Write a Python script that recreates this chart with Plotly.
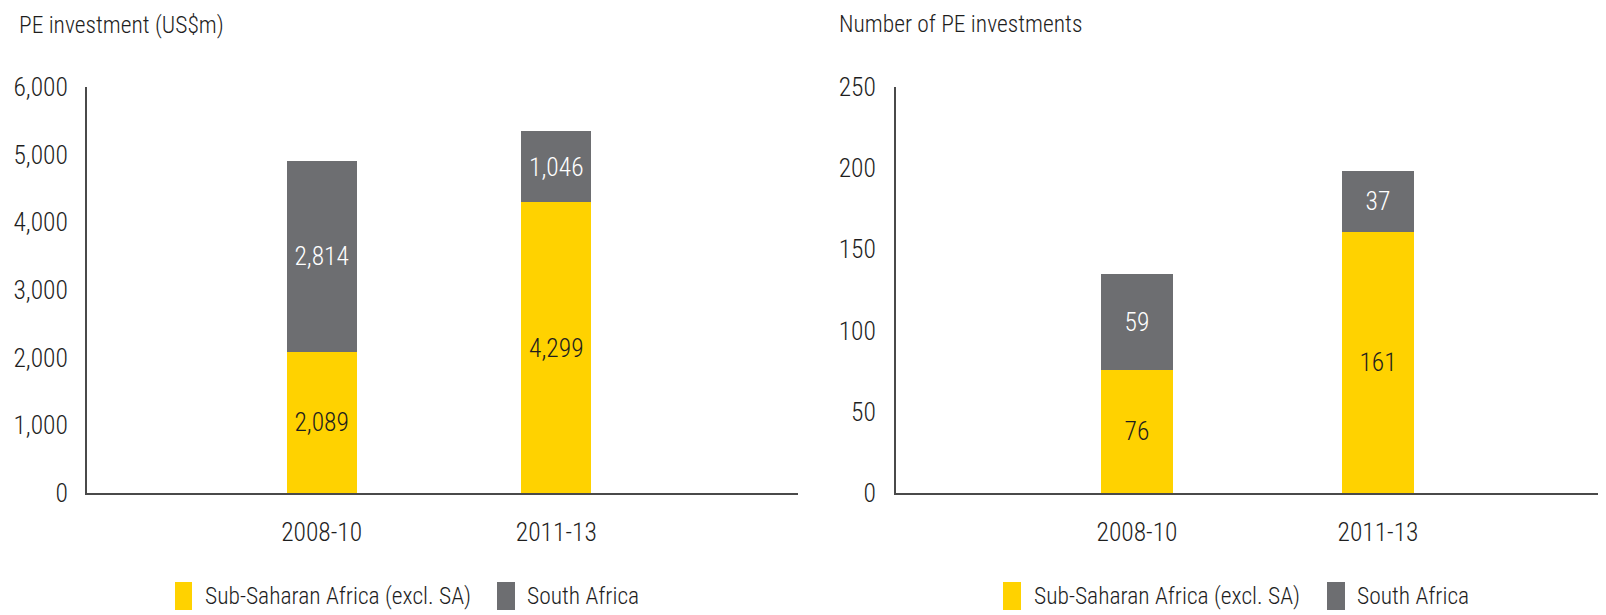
import plotly.graph_objects as go

categories = ["2008-10", "2011-13"]
ssa_value = [2089, 4299]
sa_value = [2814, 1046]
ssa_count = [76, 161]
sa_count = [59, 37]
series_names = ["Sub-Saharan Africa (excl. SA)", "South Africa"]
value_ticks = [0, 1000, 2000, 3000, 4000, 5000, 6000]
count_ticks = [0, 50, 100, 150, 200, 250]

YELLOW = "#FFD200"
GRAY = "#6D6E71"
TXT = "#1e1e1e"
FONT = "Roboto Condensed, Liberation Sans Narrow, sans-serif"
W, H = 1606, 615
OFF = 8  # page body margin
TICK_SIZE = 25.5
TITLE_SIZE = 23.5
LEG_SIZE = 23.5

def px(x):
    return (x - OFF) / W

def py(y):
    return 1 - (y - OFF) / H

fig = go.Figure()

def add_pair(xa, ya, ssa, sa, fmt):
    fig.add_trace(go.Bar(
        x=categories, y=ssa, name=series_names[0], marker_color=YELLOW,
        text=[fmt(v) for v in ssa], textposition="inside", insidetextanchor="middle",
        textfont=dict(color=TXT, size=TICK_SIZE, family=FONT, weight=300), constraintext="none",
        textangle=0, width=0.297, xaxis=xa, yaxis=ya, showlegend=False,
        marker_line_width=0, hoverinfo="skip"))
    fig.add_trace(go.Bar(
        x=categories, y=sa, name=series_names[1], marker_color=GRAY,
        text=[fmt(v) for v in sa], textposition="inside", insidetextanchor="middle",
        textfont=dict(color="white", size=TICK_SIZE, family=FONT, weight=300), constraintext="none",
        textangle=0, width=0.297, xaxis=xa, yaxis=ya, showlegend=False,
        marker_line_width=0, hoverinfo="skip"))

add_pair("x", "y", ssa_value, sa_value, lambda v: f"{v:,}")
add_pair("x2", "y2", ssa_count, sa_count, lambda v: f"{v}")

y_dom = [py(493), py(87)]
axis_common = dict(showline=True, linecolor="#4a4a4a", linewidth=2, showgrid=False,
                   zeroline=False, ticks="", automargin=False,
                   tickfont=dict(size=TICK_SIZE, color=TXT, family=FONT, weight=300))

fig.update_layout(
    template="none",
    width=W, height=H, barmode="stack", showlegend=False,
    margin=dict(l=0, r=0, t=0, b=0, pad=0),
    paper_bgcolor="white", plot_bgcolor="white",
    font=dict(family=FONT, color=TXT),
    xaxis=dict(domain=[px(87), px(798)], type="category", range=[-1, 2.03],
               anchor="y", ticklabelstandoff=15, **axis_common),
    yaxis=dict(domain=y_dom, range=[0, 6000], tickvals=value_ticks,
               ticktext=[f"{v:,}" for v in value_ticks], anchor="x",
               ticklabelstandoff=12, **axis_common),
    xaxis2=dict(domain=[px(896), px(1606)], type="category", range=[-1, 1.946],
                anchor="y2", ticklabelstandoff=15, **axis_common),
    yaxis2=dict(domain=y_dom, range=[0, 250], tickvals=count_ticks,
                ticktext=[str(v) for v in count_ticks], anchor="x2",
                ticklabelstandoff=13, **axis_common),
)

annotations = [
    dict(text="PE investment (US$m)", x=px(17), y=py(25), xref="paper", yref="paper",
         xanchor="left", yanchor="middle", showarrow=False,
         font=dict(size=TITLE_SIZE, color=TXT, family=FONT, weight=300)),
    dict(text="Number of PE investments", x=px(837), y=py(24), xref="paper", yref="paper",
         xanchor="left", yanchor="middle", showarrow=False,
         font=dict(size=TITLE_SIZE, color=TXT, family=FONT, weight=300)),
]
shapes = []

# legends (one under each panel)
legend_specs = [
    [(175, 192, 203, YELLOW, series_names[0]), (497, 515, 525, GRAY, series_names[1])],
    [(1003, 1021, 1032, YELLOW, series_names[0]), (1327, 1345, 1355, GRAY, series_names[1])],
]
for items in legend_specs:
    for x0, x1, tx, col, name in items:
        shapes.append(dict(type="rect", xref="paper", yref="paper",
                           x0=px(x0), x1=px(x1), y0=py(610), y1=py(582),
                           fillcolor=col, line_width=0))
        annotations.append(dict(text=name, x=px(tx), y=py(596), xref="paper", yref="paper",
                                xanchor="left", yanchor="middle", showarrow=False,
                                font=dict(size=LEG_SIZE, color=TXT, family=FONT, weight=300)))

fig.update_layout(annotations=annotations, shapes=shapes)
fig.write_html("out.html")
